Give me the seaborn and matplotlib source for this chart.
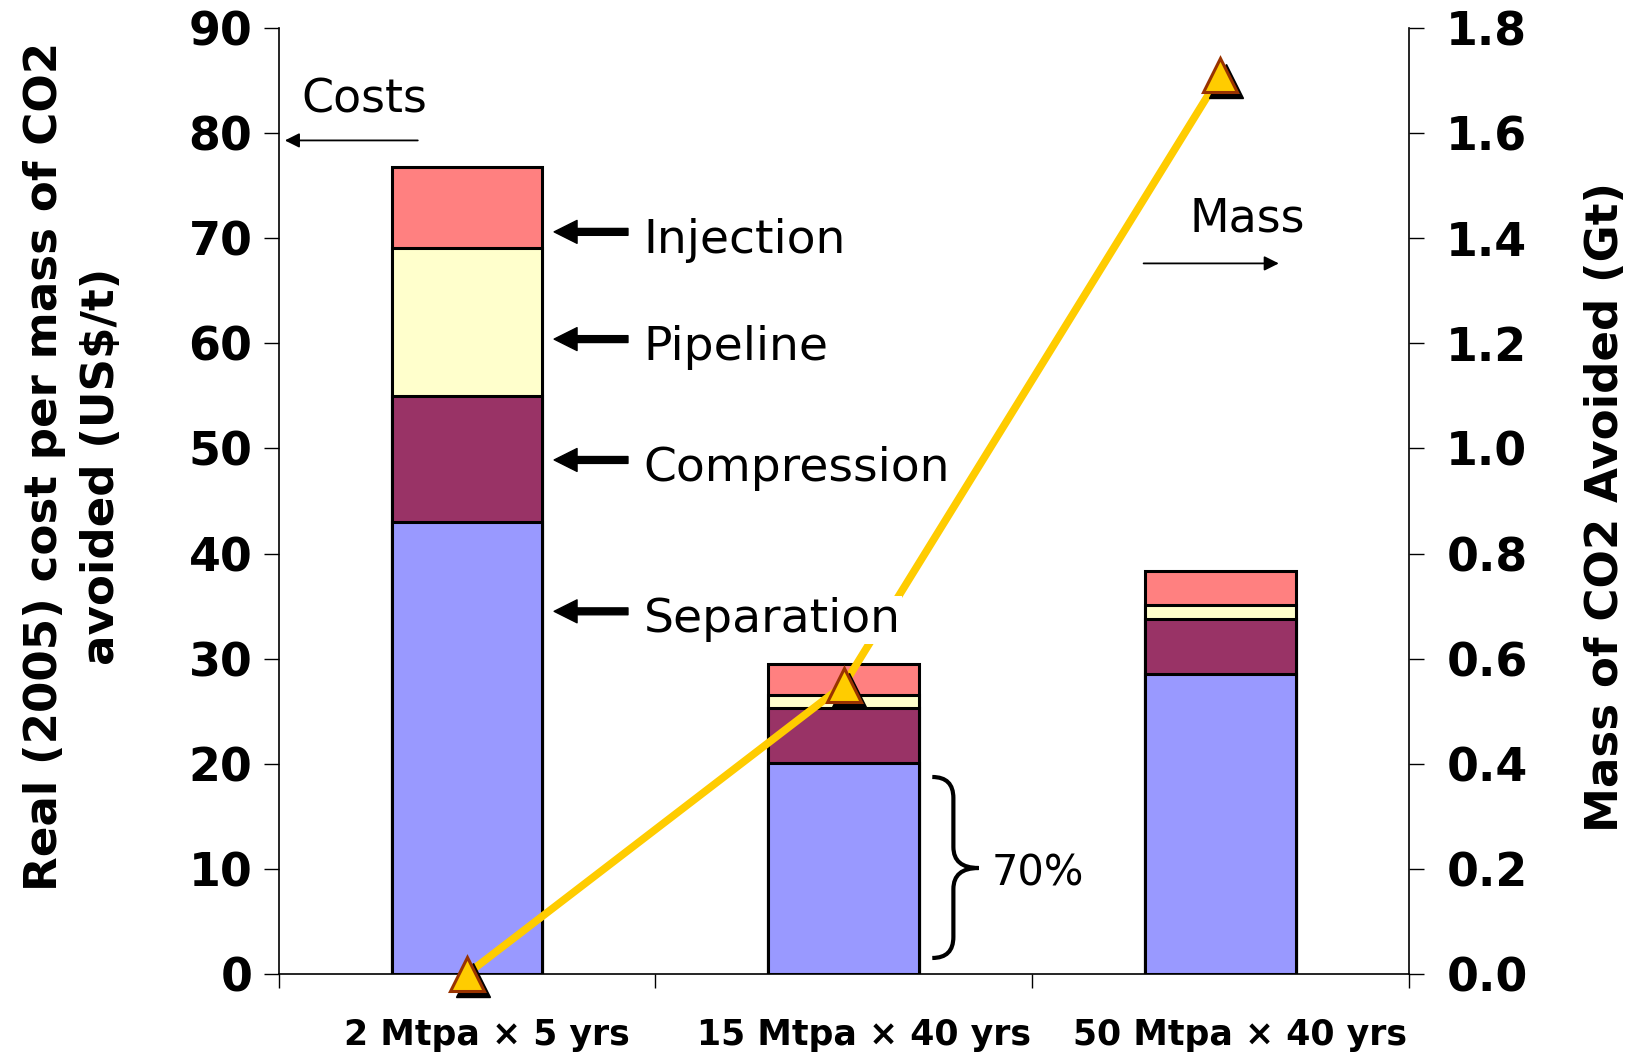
import numpy as np
import pandas as pd
import seaborn as sns
import matplotlib
matplotlib.use("Agg")
import matplotlib.pyplot as plt
from matplotlib.path import Path
from matplotlib.patches import PathPatch
from matplotlib.transforms import offset_copy, ScaledTranslation

# Cost components (US$/t CO2 avoided) for each project scale
categories = ["2 Mtpa \u00d7 5 yrs", "15 Mtpa \u00d7 40 yrs", "50 Mtpa \u00d7 40 yrs"]
separation = [43.0, 20.1, 28.5]
compression = [12.0, 5.2, 5.3]
pipeline = [14.1, 1.2, 1.3]
injection = [7.7, 3.0, 3.2]

# Mass of CO2 avoided (Gt)
mass = [0.0, 0.55, 1.71]

components = ["Separation", "Compression", "Pipeline", "Injection"]
colors = {"Separation": "#9999FF", "Compression": "#993366",
          "Pipeline": "#FFFFCC", "Injection": "#FF8080"}

sns.set_theme(style="ticks")
plt.rcParams["font.family"] = ["DejaVu Sans"]
plt.rcParams.update({"text.color": "black", "axes.labelcolor": "black",
                     "xtick.color": "black", "ytick.color": "black",
                     "axes.edgecolor": "black"})

fig = plt.figure(figsize=(16.4, 10.59), dpi=100)
ax = fig.add_axes([0.170, 0.0803, 0.689, 0.8933])

df = pd.DataFrame({"scale": categories, "Separation": separation,
                   "Compression": compression, "Pipeline": pipeline,
                   "Injection": injection})
cum = df[components].cumsum(axis=1)

# stacked bars: draw cumulative totals from the top segment down
for comp in reversed(components):
    sns.barplot(x=df["scale"], y=cum[comp], color=colors[comp], width=0.4,
                saturation=1, edgecolor="black", linewidth=2.2, ax=ax)

ax.set_xlim(-0.5, 2.5)
ax.set_ylim(0, 90)
ax.set_yticks(np.arange(0, 91, 10))
ax.set_xlabel("")
ax.set_ylabel("Real (2005) cost per mass of CO2\navoided (US$/t)",
              fontsize=32.5, fontweight="bold", linespacing=1.4)
ax.yaxis.set_label_coords(-0.138, 0.537)
ax.tick_params(axis="y", labelsize=33, length=11, width=1, pad=8, direction="out")
for lab in ax.get_yticklabels():
    lab.set_fontweight("bold")
ax.tick_params(axis="x", which="major", length=0, labelsize=25, pad=32)
ax.set_xticks(range(len(categories)))
ax.set_xticklabels(categories, fontweight="bold")
shift = ScaledTranslation(0.2, 0, fig.dpi_scale_trans)
for lab in ax.get_xticklabels():
    lab.set_transform(lab.get_transform() + shift)
ax.set_xticks(np.arange(-0.5, 3, 1), minor=True)
ax.tick_params(axis="x", which="minor", length=10, width=1, direction="out")
ax.spines["top"].set_visible(False)
ax.spines["right"].set_visible(False)
for s in ["left", "bottom"]:
    ax.spines[s].set_color("black")
    ax.spines[s].set_linewidth(1.2)

# secondary axis: mass avoided
ax2 = ax.twinx()
ax2.set_ylim(0, 1.8)
ax2.set_yticks(np.arange(0, 1.81, 0.2))
ax2.set_yticklabels([f"{v:.1f}" for v in np.arange(0, 1.81, 0.2)],
                    fontweight="bold")
ax2.tick_params(axis="y", labelsize=33, length=11, width=1, pad=16)
ax2.set_ylabel("Mass of CO2 Avoided (Gt)", fontsize=32.5, fontweight="bold",
               rotation=90)
ax2.yaxis.set_label_coords(1.155, 0.494)
for s in ["top", "left", "bottom"]:
    ax2.spines[s].set_visible(False)
ax2.spines["right"].set_color("black")
ax2.spines["right"].set_linewidth(1.2)

xpos = np.arange(len(categories))
sns.lineplot(x=xpos, y=mass, color="#FFCC00", linewidth=5.5, ax=ax2,
             zorder=3, clip_on=False)
shadow = offset_copy(ax2.transData, fig=fig, x=4, y=-4, units="points")
ax2.plot(xpos, mass, linestyle="none", marker="^", markersize=25,
         color="black", transform=shadow, zorder=4, clip_on=False)
ax2.plot(xpos, mass, linestyle="none", marker="^", markersize=25,
         markerfacecolor="#FFCC00", markeredgecolor="#993300",
         markeredgewidth=2.2, zorder=5, clip_on=False)

# component labels with arrows to the first bar
label_y = {"Injection": 70.6, "Pipeline": 60.4, "Compression": 48.9,
           "Separation": 34.5}
for comp, yv in label_y.items():
    ax.annotate("", xy=(0.231, yv), xytext=(0.427, yv),
                arrowprops=dict(arrowstyle="simple,head_length=0.5,head_width=0.5,tail_width=0.15",
                                mutation_scale=33, color="black",
                                shrinkA=0, shrinkB=0))
    ax2.text(0.468, yv - 0.8, comp, transform=ax.transData, fontsize=34,
             ha="left", va="center", zorder=6,
             bbox=dict(facecolor="white", edgecolor="none", pad=1))

# axis pointers
ax.text(-0.274, 83.1, "Costs", fontsize=33, ha="center", va="center")
ax.annotate("", xy=(-0.484, 79.3), xytext=(-0.131, 79.3), annotation_clip=False,
            arrowprops=dict(arrowstyle="-|>", lw=1.3, mutation_scale=22,
                            color="black", shrinkA=0, shrinkB=0))
ax.text(2.072, 71.8, "Mass", fontsize=33, ha="center", va="center")
ax.annotate("", xy=(2.155, 67.6), xytext=(1.796, 67.6),
            arrowprops=dict(arrowstyle="-|>", lw=1.3, mutation_scale=22,
                            color="black", shrinkA=0, shrinkB=0))

# brace marking the separation share of the mid-scale bar
x0, x1, x2 = 1.235, 1.291, 1.358
ytop, ymid, ybot = 18.74, 10.08, 1.52
r = 2.0
verts = [(x0, ytop), (x1, ytop), (x1, ytop - r),
         (x1, ymid + r), (x1, ymid), (x2, ymid),
         (x1, ymid), (x1, ymid - r),
         (x1, ybot + r), (x1, ybot), (x0, ybot)]
codes = [Path.MOVETO, Path.CURVE3, Path.CURVE3,
         Path.LINETO, Path.CURVE3, Path.CURVE3,
         Path.CURVE3, Path.CURVE3,
         Path.LINETO, Path.CURVE3, Path.CURVE3]
ax.add_patch(PathPatch(Path(verts, codes), facecolor="none",
                       edgecolor="black", linewidth=3))
ax.text(1.514, 9.6, "70%", fontsize=30, ha="center", va="center")

fig.savefig("out.png", dpi=100)
